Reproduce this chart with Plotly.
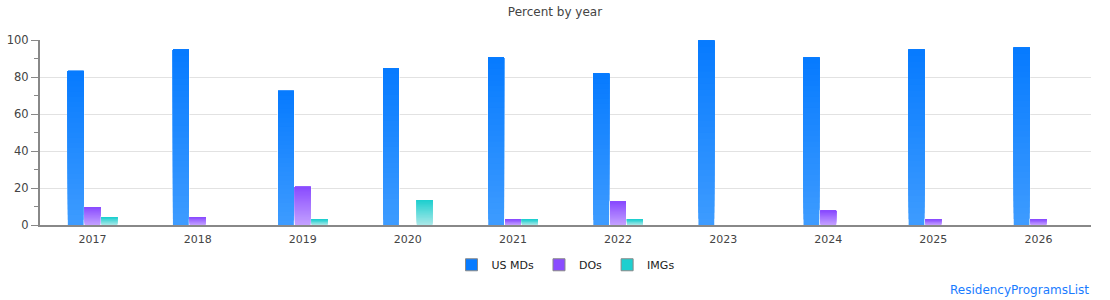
import plotly.graph_objects as go

years = ["2017", "2018", "2019", "2020", "2021", "2022", "2023", "2024", "2025", "2026"]
us_mds = [83.3, 94.7, 72.5, 84.5, 90.4, 81.8, 99.6, 90.4, 94.7, 95.8]
dos = [9.7, 4.3, 20.6, 0, 3.2, 12.5, 0, 7.6, 3.2, 3.2]
imgs = [4.3, 0, 3.2, 13.5, 3.2, 3.2, 0, 0, 0, 0]

series_names = ["US MDs", "DOs", "IMGs"]
series_values = [us_mds, dos, imgs]
top_colors = [(7, 123, 255), (138, 76, 255), (30, 207, 207)]
bottom_colors = [(61, 155, 255), (195, 160, 255), (168, 232, 232)]

N = 30
fig = go.Figure()


def rgb(c):
    return "rgb(%d,%d,%d)" % c


for k, (name, vals) in enumerate(zip(series_names, series_values)):
    og = str(k)
    # white backing to break gridlines around bars
    fig.add_trace(go.Bar(
        x=years, y=vals, offsetgroup=og, showlegend=False, hoverinfo="skip",
        marker=dict(color="white", line=dict(color="white", width=1.5)),
    ))
    tc, bc = top_colors[k], bottom_colors[k]
    for i in range(N):
        t = i / (N - 1)
        col = tuple(round(bc[j] + (tc[j] - bc[j]) * t) for j in range(3))
        # each layer spans from its start up to the bar top; later layers cover the upper part
        fig.add_trace(go.Bar(
            x=years,
            y=[v * (N - i) / N for v in vals],
            base=[v * i / N for v in vals],
            offsetgroup=og, showlegend=False, hoverinfo="skip",
            marker=dict(color=rgb(col), line=dict(width=0)),
        ))
    # legend entry
    fig.add_trace(go.Bar(
        x=[years[0]], y=[None], offsetgroup=og, name=name, showlegend=True,
        marker=dict(color=rgb(tc), line=dict(color="#888888", width=1)),
    ))

fig.update_layout(
    width=1110, height=300,
    margin=dict(l=40, r=19, t=40, b=75),
    paper_bgcolor="white", plot_bgcolor="white",
    font=dict(family="DejaVu Sans", size=11, color="#444444"),
    title=dict(text="Percent by year", x=0.5, xanchor="center", y=0.96, yanchor="middle",
               font=dict(size=12, color="#444444")),
    barmode="group", bargap=0.52, bargroupgap=0.06,
    showlegend=True,
    legend=dict(orientation="h", x=0.5, xanchor="center", y=-0.215, yanchor="middle",
                font=dict(size=11, color="#222222"), itemwidth=30, traceorder="normal"),
    xaxis=dict(type="category", showgrid=False, showline=True, linecolor="#888888", linewidth=2,
               ticks="", tickfont=dict(size=11, color="#444444"), fixedrange=True,
               automargin=False, ticklabelstandoff=3),
    yaxis=dict(range=[0, 100], dtick=20, showgrid=True, gridcolor="#e2e2e2", gridwidth=1,
               showline=True, linecolor="#888888", linewidth=2, ticks="outside", ticklen=7,
               tickcolor="#888888", tickfont=dict(size=11.5, color="#444444"), zeroline=False,
               automargin=False,
               minor=dict(dtick=10, ticks="outside", ticklen=4, tickcolor="#888888", showgrid=False)),
    annotations=[dict(text="ResidencyProgramsList", xref="paper", yref="paper", x=1.0, y=-0.35,
                      xanchor="right", yanchor="middle", showarrow=False,
                      font=dict(size=12, color="#1a7cff"))],
)

fig.write_html("out.html")
